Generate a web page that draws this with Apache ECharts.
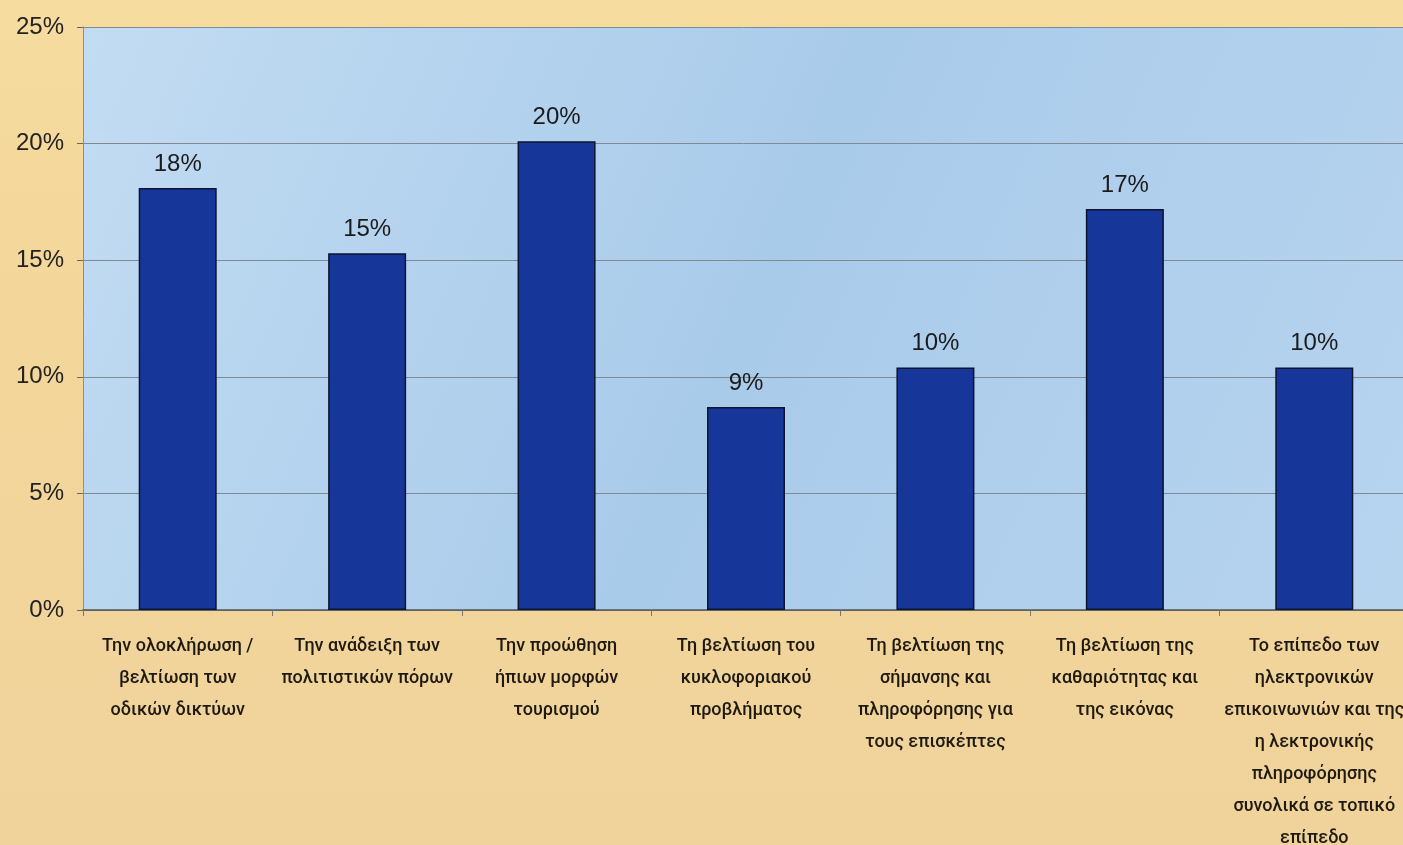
<!DOCTYPE html>
<html>
<head>
<meta charset="utf-8">
<title>Chart</title>
<script src="https://cdn.jsdelivr.net/npm/echarts@6/dist/echarts.min.js"></script>
<style>
  html, body { margin: 0; padding: 0; overflow: hidden; }
  body {
    width: 1403px; height: 845px;
    background: linear-gradient(180deg, #f6dc9e 0%, #f3d69a 40%, #f0d39b 100%);
  }
  #chart { width: 1403px; height: 845px; }
</style>
</head>
<body>
<div id="chart"></div>
<script>
// categories (x axis)
const categories = [
    'Την ολοκλήρωση /\nβελτίωση των\nοδικών δικτύων',
    'Την ανάδειξη των\nπολιτιστικών πόρων',
    'Την προώθηση\nήπιων μορφών\nτουρισμού',
    'Τη βελτίωση του\nκυκλοφοριακού\nπροβλήματος',
    'Τη βελτίωση της\nσήμανσης και\nπληροφόρησης για\nτους επισκέπτες',
    'Τη βελτίωση της\nκαθαριότητας και\nτης εικόνας',
    'Το επίπεδο των\nηλεκτρονικών\nεπικοινωνιών και της\nη λεκτρονικής\nπληροφόρησης\nσυνολικά σε τοπικό\nεπίπεδο'
];
// values in %
const values = [18.1, 15.3, 20.1, 8.7, 10.4, 17.2, 10.4];
// y axis
const yMin = 0;
const yMax = 25;
const yStep = 5;

const chart = echarts.init(document.getElementById('chart'));

const option = {
    backgroundColor: 'transparent',
    animation: false,
    grid: {
        left: 83,
        right: -6,
        top: 27,
        bottom: 235,
        outerBoundsMode: 'none',
        containLabel: false,
        show: true,
        borderWidth: 0,
        backgroundColor: {
            type: 'linear', x: 0, y: 0, x2: 1, y2: 1,
            colorStops: [
                { offset: 0, color: '#c2dcf2' },
                { offset: 0.5, color: '#a9cbea' },
                { offset: 1, color: '#b7d4ef' }
            ]
        }
    },
    xAxis: {
        type: 'category',
        data: categories,
        axisLine: { show: true, lineStyle: { color: '#555', width: 1.5 } },
        axisTick: { show: true, length: 6, lineStyle: { color: '#777' } },
        axisLabel: {
            color: '#1e1a12',
            fontFamily: 'Roboto, sans-serif',
            fontWeight: 500,
            fontSize: 18,
            lineHeight: 32,
            margin: 20,
            interval: 0,
            align: 'center'
        }
    },
    yAxis: {
        type: 'value',
        min: yMin,
        max: yMax,
        interval: yStep,
        axisLine: { show: true, lineStyle: { color: '#8a8f96', width: 1 } },
        axisTick: { show: true, length: 6, lineStyle: { color: '#666' } },
        splitLine: { show: true, lineStyle: { color: '#7f8a93', width: 1 } },
        axisLabel: {
            formatter: '{value}%',
            color: '#222',
            fontFamily: 'Liberation Sans, Arial, sans-serif',
            fontSize: 24,
            margin: 19
        }
    },
    series: [{
        type: 'bar',
        data: values,
        barWidth: 78,
        itemStyle: {
            color: '#17369a',
            borderColor: '#0c1430',
            borderWidth: 1.5
        },
        label: {
            show: true,
            position: 'top',
            distance: 12,
            formatter: p => Math.round(p.value) + '%',
            color: '#1b1b1b',
            fontFamily: 'Liberation Sans, Arial, sans-serif',
            fontSize: 24
        }
    }]
};

chart.setOption(option);
</script>
</body>
</html>
